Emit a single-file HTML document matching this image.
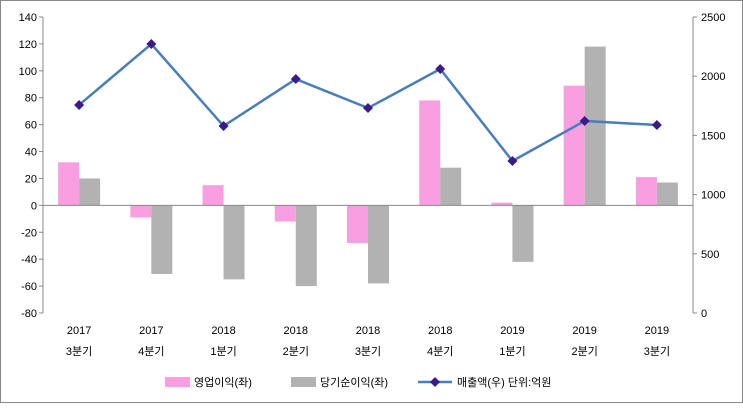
<!DOCTYPE html>
<html><head><meta charset="utf-8">
<style>
body{margin:0;background:#fff;font-family:"Liberation Sans","Noto Sans CJK KR",sans-serif;}
svg text{font-family:"Liberation Sans","Noto Sans CJK KR",sans-serif;font-size:11px;fill:#000;}
</style></head>
<body>
<svg id="chart" width="743" height="403">
<rect x="0.5" y="0.5" width="742" height="402" fill="#fff" stroke="#888"/>
<g id="grid"></g><g id="bars"></g><g id="line"></g><g id="axes"></g>
<g>
<rect x="165" y="377" width="25" height="10" fill="#f99ee0"/>
<text x="194" y="386">영업이익(좌)</text>
<rect x="291" y="377" width="25" height="10" fill="#b2b2b2"/>
<text x="320" y="386">당기순이익(좌)</text>
<line x1="418" y1="382" x2="452" y2="382" stroke="#4a7ebb" stroke-width="2.5"/>
<path d="M435 377 L440 382 L435 387 L430 382Z" fill="#3d1a8c"/>
<text x="457" y="386">매출액(우)  단위:억원</text>
</g>
</svg>
<script>
const years=["2017","2017","2018","2018","2018","2018","2019","2019","2019"];
const quarters=["3분기","4분기","1분기","2분기","3분기","4분기","1분기","2분기","3분기"];
const operating=[32,-9,15,-12,-28,78,2,89,21];
const netIncome=[20,-51,-55,-60,-58,28,-42,118,17];
const sales=[1757,2272,1579,1976,1731,2061,1284,1622,1588];
const leftTicks=[140,120,100,80,60,40,20,0,-20,-40,-60,-80];
const rightTicks=[2500,2000,1500,1000,500,0];
const NS="http://www.w3.org/2000/svg";
const X0=43,X1=693,Y0=17,Y1=313;
const cw=(X1-X0)/years.length;
const xc=i=>X0+cw*(i+0.5);
const yL=v=>Y0+(140-v)/220*(Y1-Y0);
const yR=v=>Y1-v/2500*(Y1-Y0);
function mk(tag,a,p,txt){const e=document.createElementNS(NS,tag);for(const k in a)e.setAttribute(k,a[k]);if(txt!==undefined)e.textContent=txt;document.getElementById(p).appendChild(e);return e;}
let e;
e=mk('line',{x1:X0,y1:Y0,x2:X0,y2:Y1,stroke:'#888'},'axes');


e=mk('line',{x1:X1,y1:Y0,x2:X1,y2:Y1,stroke:'#888'},'axes');


e=mk('line',{x1:X0,y1:yL(0),x2:X1,y2:yL(0),stroke:'#888'},'axes');


leftTicks.forEach(v=>{
 mk('line',{x1:X0-4,y1:yL(v),x2:X0,y2:yL(v),stroke:'#888'},'axes');
 e=mk('text',{x:X0-6,y:yL(v)+4,'text-anchor':'end'},'axes',v);
 
 
});
rightTicks.forEach(v=>{
 mk('line',{x1:X1,y1:yR(v),x2:X1+4,y2:yR(v),stroke:'#888'},'axes');
 e=mk('text',{x:X1+8,y:yR(v)+4},'axes',v);
 
 
});
years.forEach((y,i)=>{
 e=mk('text',{x:xc(i),y:334,'text-anchor':'middle'},'axes',y);
 
 
 e=mk('text',{x:xc(i),y:355,'text-anchor':'middle'},'axes',quarters[i]);
 
 
});
const bw=21;
operating.forEach((v,i)=>{
 e=mk('rect',{x:xc(i)-bw,y:Math.min(yL(v),yL(0)),width:bw,height:Math.abs(yL(v)-yL(0)),fill:'#f99ee0'},'bars');
 
 
});
netIncome.forEach((v,i)=>{
 e=mk('rect',{x:xc(i),y:Math.min(yL(v),yL(0)),width:bw,height:Math.abs(yL(v)-yL(0)),fill:'#b2b2b2'},'bars');
 
 
});
e=mk('polyline',{points:sales.map((v,i)=>xc(i)+','+yR(v)).join(' '),fill:'none',stroke:'#4a7ebb','stroke-width':2.5},'line');


sales.forEach((v,i)=>{
 const x=xc(i),y=yR(v);
 e=mk('path',{d:`M${x} ${y-5} L${x+5} ${y} L${x} ${y+5} L${x-5} ${y}Z`,fill:'#3d1a8c'},'line');
 
 
});
</script>
</body></html>
